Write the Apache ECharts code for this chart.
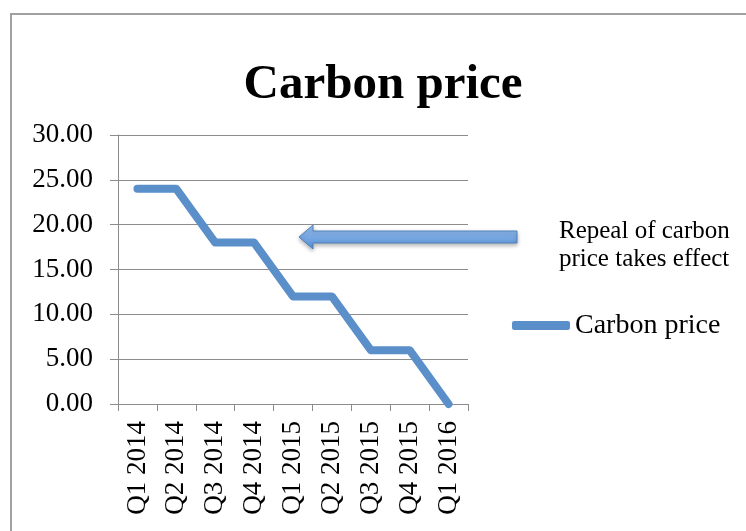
<html>
  <head>
    <title>Carbon price</title>
    <script src="https://cdn.jsdelivr.net/npm/echarts@6/dist/echarts.min.js"></script>
    <style>
      html, body { margin: 0; padding: 0; background: #ffffff; }
      #chart { width: 746px; height: 531px; }
    </style>
  </head>
  <body>
    <div id="chart"></div>
    <script>
      // chart data
      var categories = ['Q1 2014', 'Q2 2014', 'Q3 2014', 'Q4 2014', 'Q1 2015', 'Q2 2015', 'Q3 2015', 'Q4 2015', 'Q1 2016']
      var carbonPrice = [24, 24, 18, 18, 12, 12, 6, 6, 0]
      var seriesName = 'Carbon price'
      var noteText = 'Repeal of carbon\nprice takes effect'

      var serif = "'Liberation Serif', 'DejaVu Serif', serif"

      var myChart = echarts.init(document.getElementById('chart'))

      myChart.setOption({
        animation: false,
        title: {
          text: 'Carbon price',
          left: 383,
          top: 47,
          padding: 0,
          textAlign: 'center',
          textStyle: {
            fontFamily: serif,
            fontWeight: 'bold',
            fontSize: 49,
            color: '#000000'
          }
        },
        legend: {
          data: [seriesName],
          left: 512,
          top: 304,
          padding: 0,
          itemWidth: 58,
          itemHeight: 9,
          icon: 'roundRect',
          textStyle: {
            fontFamily: serif,
            fontSize: 28,
            color: '#000000'
          }
        },
        grid: {
          left: 118,
          right: 278,
          top: 135,
          bottom: 127
        },
        xAxis: {
          type: 'category',
          data: categories,
          boundaryGap: true,
          axisLine: { lineStyle: { color: '#8c8c8c', width: 1 } },
          axisTick: { show: true, length: 7, lineStyle: { color: '#8c8c8c' } },
          axisLabel: {
            rotate: 90,
            margin: 17,
            interval: 0,
            fontFamily: serif,
            fontSize: 27,
            color: '#000000'
          }
        },
        yAxis: {
          type: 'value',
          min: 0,
          max: 30,
          interval: 5,
          axisLine: { show: true, lineStyle: { color: '#8c8c8c', width: 1 } },
          axisTick: { show: true, length: 8, lineStyle: { color: '#8c8c8c' } },
          splitLine: { lineStyle: { color: '#8c8c8c', width: 1 } },
          axisLabel: {
            margin: 25,
            fontFamily: serif,
            fontSize: 27,
            color: '#000000',
            formatter: function (v) { return v.toFixed(2) }
          }
        },
        series: [
          {
            name: seriesName,
            type: 'line',
            data: carbonPrice,
            symbol: 'none',
            clip: false,
            color: '#5b8fc9',
            lineStyle: { width: 8, color: '#5b8fc9', cap: 'round', join: 'round' }
          }
        ],
        graphic: [
          // chart frame
          {
            type: 'rect',
            shape: { x: 11, y: 14, width: 800, height: 600 },
            style: { fill: 'none', stroke: '#a0a0a0', lineWidth: 2 },
            silent: true
          },
          // arrow
          {
            type: 'polygon',
            shape: {
              points: [[299, 237], [313, 225], [313, 231], [517, 231], [517, 243], [313, 243], [313, 249]]
            },
            style: {
              fill: new echarts.graphic.LinearGradient(0, 0, 0, 1, [
                { offset: 0, color: '#9cc3f0' },
                { offset: 0.5, color: '#78a8e4' },
                { offset: 1, color: '#5a8fd4' }
              ]),
              stroke: '#4f81bd',
              lineWidth: 1,
              shadowBlur: 4,
              shadowOffsetY: 2,
              shadowColor: 'rgba(0,0,0,0.3)'
            },
            silent: true
          },
          {
            type: 'text',
            left: 559,
            top: 212,
            style: {
              text: noteText,
              fontFamily: serif,
              fontSize: 25,
              lineHeight: 28,
              fill: '#000000'
            },
            silent: true
          }
        ]
      })
    </script>
  </body>
</html>
